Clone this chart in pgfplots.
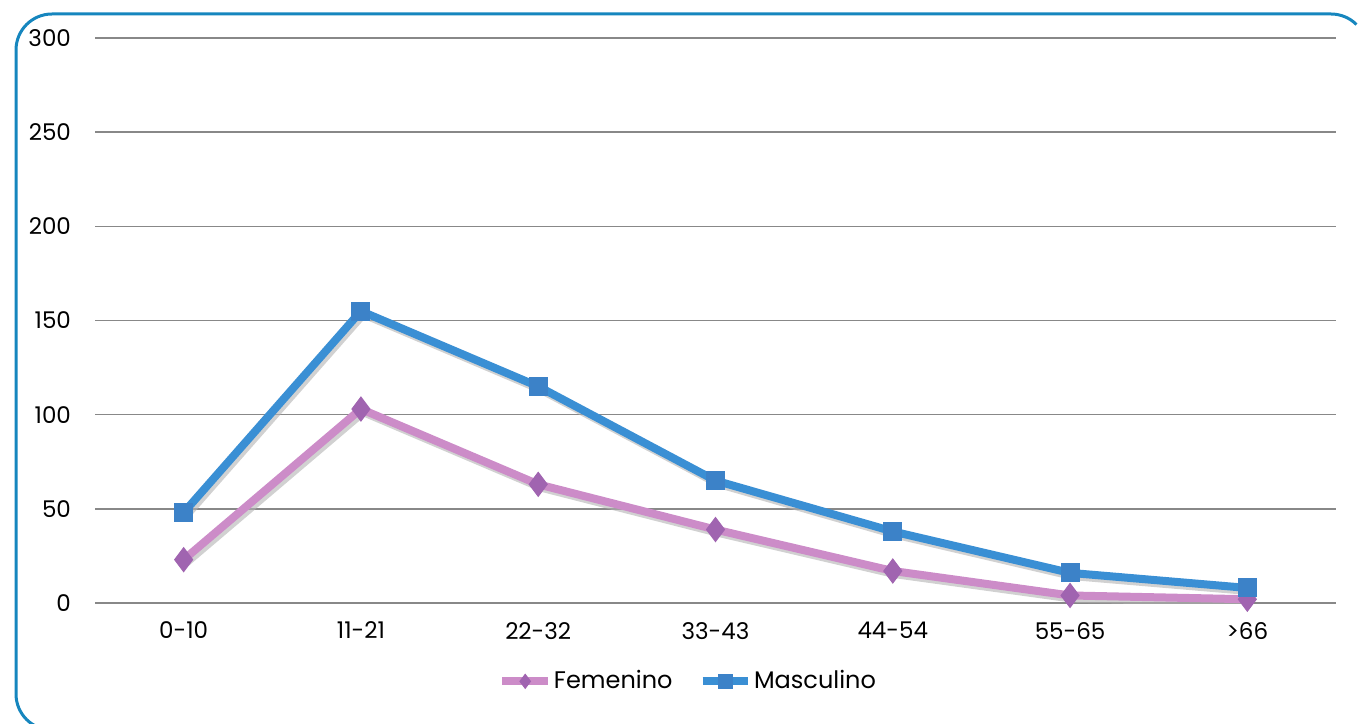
\documentclass[border=0pt]{standalone}
\usepackage{pgfplots}
\pgfplotsset{compat=1.18}
\usepackage{fontspec}
\setmainfont{Poppins}
\definecolor{frameblue}{RGB}{22,134,190}
\definecolor{mline}{RGB}{58,143,212}
\definecolor{mmark}{RGB}{60,130,200}
\definecolor{fline}{RGB}{204,140,200}
\definecolor{fmark}{RGB}{160,100,176}
\definecolor{gridc}{RGB}{136,136,136}
\begin{document}
\begin{tikzpicture}
\useasboundingbox (0,0) rectangle (679.5pt,361.5pt);
\begin{scope}
\clip (0,0) rectangle (679.5pt,361.5pt);
\draw[frameblue, line width=1.5pt] (26pt,-3.5pt) arc (270:180:18pt) -- (8pt,336.5pt) arc (180:90:18pt) -- (665.5pt,354.5pt) arc (90:45:18pt);
\end{scope}
\begin{axis}[
  at={(47.5pt,60pt)}, anchor=south west,
  scale only axis, width=620.5pt, height=282.5pt,
  xmin=-0.5, xmax=6.5, ymin=0, ymax=300,
  axis line style={draw=none},
  xtick={0,...,6},
  xticklabels={0-10,11-21,22-32,33-43,44-54,55-65,>66},
  ytick={0,50,...,300},
  major tick length=0pt,
  ymajorgrids, grid style={gridc, line width=0.75pt},
  tick label style={font=\fontsize{11.5}{13}\selectfont},
  /pgf/number format/assume math mode=true,
  yticklabel style={xshift=-8.5pt},
  xticklabel style={yshift=-6pt},
  legend style={at={(0.478,-0.105)}, anchor=north, draw=none, legend columns=2,
    font=\fontsize{12}{14}\selectfont, column sep=0pt, nodes={inner xsep=1pt},
    /tikz/every even column/.append style={column sep=12pt}},
  legend cell align=left,
  legend image code/.code={\draw[#1,mark repeat=2,mark phase=2, mark size=3.5pt] plot coordinates {(0cm,0cm)(0.4cm,0cm)(0.8cm,0cm)};},
]
\addplot[gray!60, opacity=0.6, line width=4pt, forget plot, transform canvas={shift={(1.2pt,-1.6pt)}}] coordinates {(0,23)(1,103)(2,63)(3,39)(4,17)(5,4)(6,2)};
\addplot[gray!60, opacity=0.6, line width=4pt, forget plot, transform canvas={shift={(1.2pt,-1.6pt)}}] coordinates {(0,48)(1,155)(2,115)(3,65)(4,38)(5,16)(6,8)};
\addplot[fline, line width=4pt, mark=diamond*, mark size=6pt, mark options={fill=fmark, draw=fmark, line width=0.5pt}] coordinates {(0,23)(1,103)(2,63)(3,39)(4,17)(5,4)(6,2)};
\addlegendentry{Femenino}
\addplot[mline, line width=4pt, mark=square*, mark size=4.5pt, mark options={fill=mmark, draw=mmark, line width=0.5pt}] coordinates {(0,48)(1,155)(2,115)(3,65)(4,38)(5,16)(6,8)};
\addlegendentry{Masculino}
\end{axis}
\end{tikzpicture}
\end{document}
